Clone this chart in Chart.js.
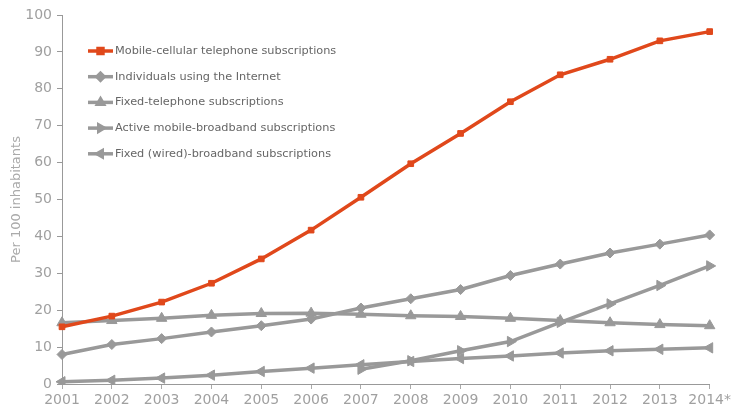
<!DOCTYPE html>
<html lang="en">
<head>
<meta charset="UTF-8" />
<title>ICT indicators per 100 inhabitants</title>
<script src="https://cdn.jsdelivr.net/npm/chart.js@4/dist/chart.umd.min.js"></script>
<style>
  html, body { margin: 0; padding: 0; background: #fff; }
  #wrap { width: 734px; height: 409px; }
</style>
</head>
<body>
<div id="wrap"><canvas id="ictChart"></canvas></div>
<script>
const years = ["2001", "2002", "2003", "2004", "2005", "2006", "2007", "2008", "2009", "2010", "2011", "2012", "2013", "2014*"];

const mobileCellular = [15.5, 18.4, 22.2, 27.3, 33.9, 41.7, 50.6, 59.7, 67.9, 76.5, 83.8, 88.0, 93.0, 95.5];
const internetUsers = [8.0, 10.7, 12.3, 14.1, 15.8, 17.6, 20.6, 23.1, 25.6, 29.4, 32.5, 35.5, 37.9, 40.4];
const fixedTelephone = [16.6, 17.2, 17.8, 18.6, 19.1, 19.2, 18.9, 18.5, 18.3, 17.8, 17.2, 16.6, 16.1, 15.8];
const mobileBroadband = [null, null, null, null, null, null, 4.0, 6.3, 9.0, 11.5, 16.7, 21.7, 26.7, 32.0];
const fixedBroadband = [0.6, 1.0, 1.6, 2.4, 3.4, 4.3, 5.2, 6.1, 6.9, 7.6, 8.4, 9.0, 9.4, 9.8];

const ORANGE = "#e0481b";
const GREY = "#999999";
const FONT = "'DejaVu Sans', sans-serif";

function series(label, data, color, style, rot, radius) {
  return {
    label,
    data,
    borderColor: color,
    backgroundColor: color,
    borderWidth: 3.5,
    pointStyle: style,
    rotation: rot,
    pointRadius: radius,
    pointHoverRadius: radius,
    pointBorderWidth: 1,
    tension: 0,
    fill: false
  };
}

// legend drawn inside the plot area, top-left
const innerLegend = {
  id: "innerLegend",
  afterDraw(chart) {
    const ctx = chart.ctx;
    const x0 = 88, y0 = 51, gap = 25.7;
    ctx.save();
    chart.data.datasets.forEach((ds, i) => {
      const y = y0 + i * gap;
      ctx.strokeStyle = ds.borderColor;
      ctx.lineWidth = 3.5;
      ctx.beginPath();
      ctx.moveTo(x0, y);
      ctx.lineTo(x0 + 25, y);
      ctx.stroke();
      ctx.fillStyle = ds.backgroundColor;
      ctx.strokeStyle = ds.borderColor;
      Chart.helpers.drawPoint(ctx, {
        pointStyle: ds.pointStyle,
        rotation: ds.rotation,
        radius: 3.5,
        borderWidth: 1
      }, x0 + 12.5, y);
      ctx.fillStyle = "#666666";
      ctx.font = "11.3px " + FONT;
      ctx.textBaseline = "middle";
      ctx.textAlign = "left";
      ctx.fillText(ds.label, x0 + 27, y);
    });
    ctx.restore();
  }
};

new Chart(document.getElementById("ictChart"), {
  type: "line",
  data: {
    labels: years,
    datasets: [
      series("Mobile-cellular telephone subscriptions", mobileCellular, ORANGE, "rect", 0, 4),
      series("Individuals using the Internet", internetUsers, GREY, "rectRot", 0, 5),
      series("Fixed-telephone subscriptions", fixedTelephone, GREY, "triangle", 0, 6),
      series("Active mobile-broadband subscriptions", mobileBroadband, GREY, "triangle", 90, 6),
      series("Fixed (wired)-broadband subscriptions", fixedBroadband, GREY, "triangle", -90, 6)
    ]
  },
  options: {
    responsive: true,
    maintainAspectRatio: false,
    animation: false,
    layout: { padding: { top: 15, right: 0, bottom: 0, left: 8 } },
    plugins: {
      legend: { display: false },
      tooltip: { enabled: false }
    },
    scales: {
      x: {
        offset: false,
        afterFit(scale) { scale.height = 25; },
        grid: { drawOnChartArea: false, drawTicks: true, tickLength: 5, color: "#aaaaaa" },
        border: { color: "#999999", width: 1 },
        ticks: { color: "#a0a0a0", font: { family: FONT, size: 14 }, maxRotation: 0, autoSkip: false, padding: 3 }
      },
      y: {
        min: 0,
        max: 100,
        afterFit(scale) { scale.width = 54; },
        grid: { drawOnChartArea: false, drawTicks: true, tickLength: 5, color: "#999999" },
        border: { color: "#999999", width: 1 },
        ticks: { stepSize: 10, color: "#a0a0a0", font: { family: FONT, size: 14 }, padding: 5 },
        title: { display: true, text: "Per 100 inhabitants", color: "#aaaaaa", font: { family: FONT, size: 13 }, padding: 1 }
      }
    }
  },
  plugins: [innerLegend]
});
</script>
</body>
</html>
